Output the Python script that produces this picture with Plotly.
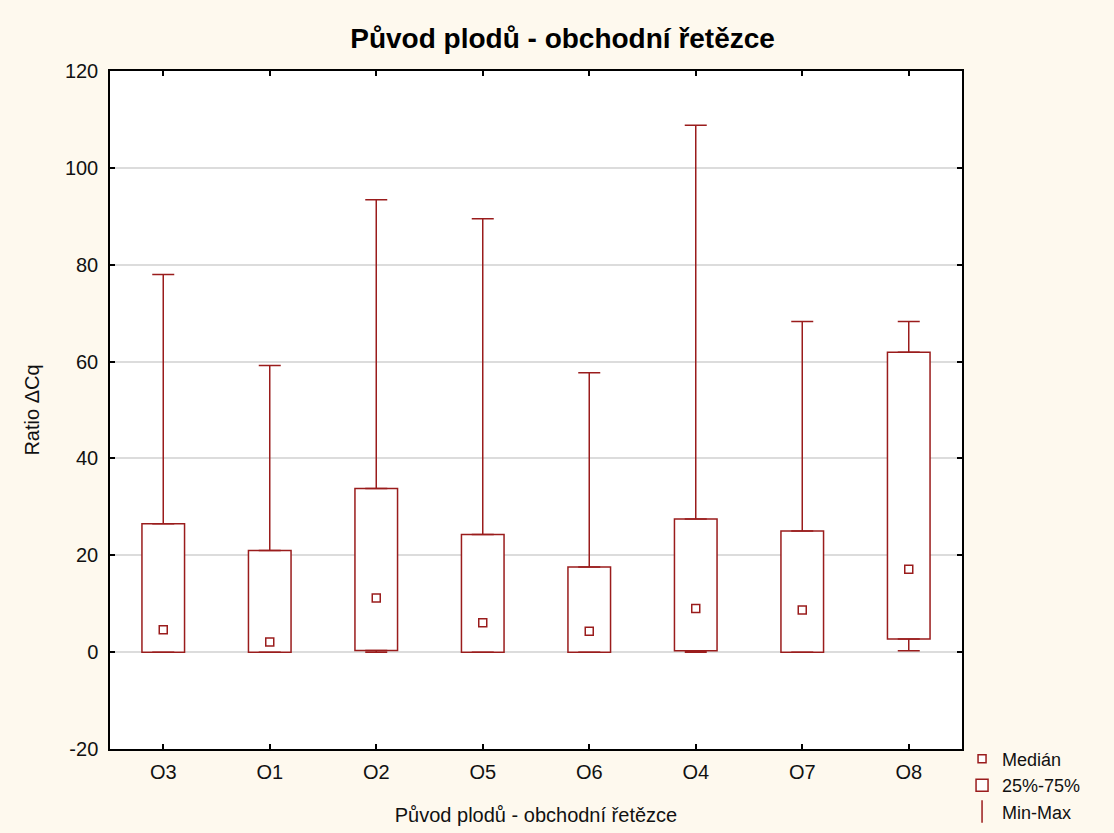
import plotly.graph_objects as go

categories = ["O3", "O1", "O2", "O5", "O6", "O4", "O7", "O8"]
minimum = [0.0, 0.0, 0.0, 0.0, 0.0, 0.0, 0.0, 0.3]
q1 = [0.0, 0.0, 0.35, 0.0, 0.0, 0.3, 0.0, 2.7]
median = [4.6, 2.1, 11.2, 6.05, 4.3, 9.0, 8.7, 17.1]
q3 = [26.5, 21.0, 33.8, 24.3, 17.6, 27.5, 25.0, 61.9]
maximum = [78.0, 59.2, 93.4, 89.5, 57.7, 108.8, 68.3, 68.3]
y_tick_values = [-20, 0, 20, 40, 60, 80, 100, 120]
y_tick_labels = ["-20", "0", "20", "40", "60", "80", "100", "120"]

RED = "#9A1C1C"
FONT = "Liberation Sans, Arial, sans-serif"

upper_len = [mx - b for mx, b in zip(maximum, q3)]
lower_len = [a - mn for a, mn in zip(q1, minimum)]
zeros = [0] * len(categories)

fig = go.Figure()

# Boxes (25%-75%)
fig.add_trace(go.Bar(
    x=categories, y=[b - a for a, b in zip(q1, q3)], base=q1,
    width=0.4, marker=dict(color="white", line=dict(color=RED, width=1.5)),
    name="25%-75%", legendrank=2, hoverinfo="skip",
))

# Upper whiskers
fig.add_trace(go.Scatter(
    x=categories, y=q3, mode="markers",
    marker=dict(size=1, color="rgba(0,0,0,0)"),
    error_y=dict(type="data", symmetric=False, array=upper_len, arrayminus=zeros,
                 color=RED, thickness=1.5, width=11),
    showlegend=False, hoverinfo="skip",
))
# Lower whiskers
fig.add_trace(go.Scatter(
    x=categories, y=q1, mode="markers",
    marker=dict(size=1, color="rgba(0,0,0,0)"),
    error_y=dict(type="data", symmetric=False, array=zeros, arrayminus=lower_len,
                 color=RED, thickness=1.5, width=11),
    showlegend=False, hoverinfo="skip",
))

# Medians
fig.add_trace(go.Scatter(
    x=categories, y=median, mode="markers",
    marker=dict(symbol="square", size=8, color="white", line=dict(color=RED, width=1.5)),
    name="Medián", legendrank=1,
))

# Legend entry for Min-Max
fig.add_trace(go.Scatter(
    x=[None], y=[None], mode="markers",
    marker=dict(symbol="line-ns-open", size=18, color=RED, line=dict(color=RED, width=1.5)),
    name="Min-Max", legendrank=3,
))

fig.update_layout(
    width=1114, height=833,
    paper_bgcolor="#FEF9EE", plot_bgcolor="white",
    margin=dict(l=110, r=152, t=71, b=84),
    font=dict(family=FONT, size=20, color="#111111"),
    title=dict(text="<b>Původ plodů - obchodní řetězce</b>", x=0.505, xanchor="center",
               y=0.954, yanchor="middle", font=dict(family=FONT, size=28, color="black")),
    barmode="overlay",
    legend=dict(xref="container", yref="container", x=0.8636, xanchor="left",
                y=0.111, yanchor="top",
                bgcolor="rgba(0,0,0,0)", font=dict(family=FONT, size=18, color="#111111"),
                tracegroupgap=0, itemwidth=30),
    showlegend=True,
)
fig.update_xaxes(
    type="category", showline=True, linecolor="black", linewidth=1.5, mirror="ticks",
    ticks="inside", ticklen=5, tickcolor="black", tickwidth=1.5, showgrid=False,
    automargin=False, ticklabelstandoff=4,
    title=dict(text="Původ plodů - obchodní řetězce", font=dict(family=FONT, size=20), standoff=26),
    tickfont=dict(family=FONT, size=20),
)
fig.update_yaxes(
    range=[-20, 120], tickvals=y_tick_values, ticktext=y_tick_labels,
    showline=True, linecolor="black", linewidth=1.5, mirror="ticks",
    ticks="inside", ticklen=5, tickcolor="black", tickwidth=1.5,
    showgrid=True, gridcolor="#DCDCDC", gridwidth=1.5, zeroline=False,
    automargin=False, ticklabelstandoff=6,
    title=dict(text="Ratio ΔCq", font=dict(family=FONT, size=20), standoff=20),
    tickfont=dict(family=FONT, size=20),
)

fig.write_html("out.html")
